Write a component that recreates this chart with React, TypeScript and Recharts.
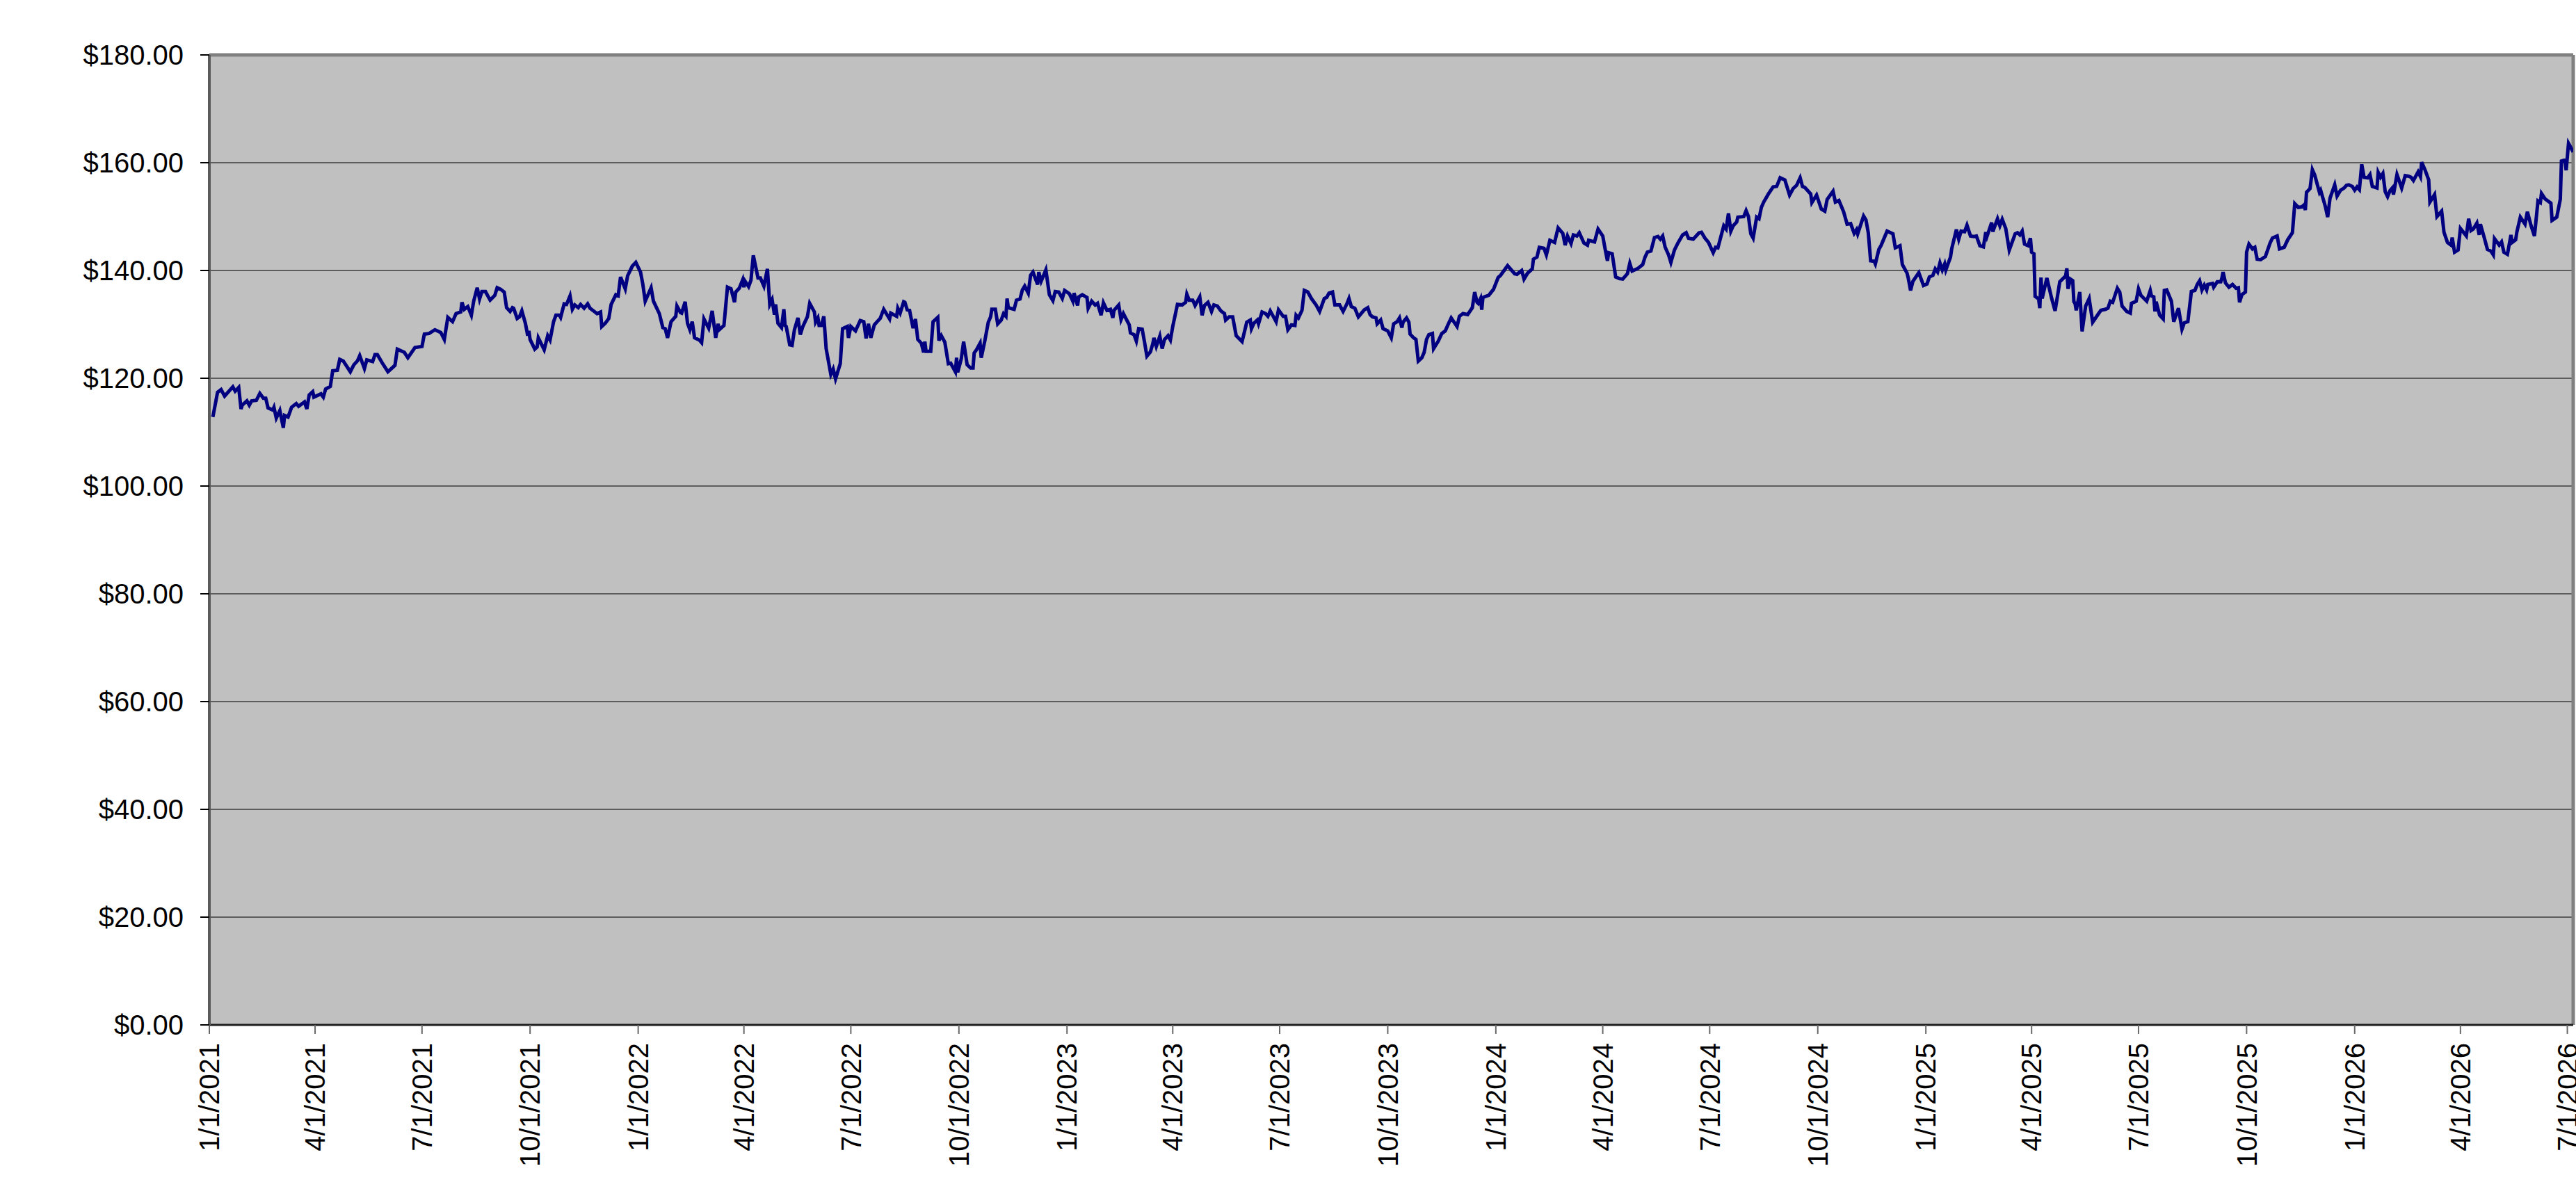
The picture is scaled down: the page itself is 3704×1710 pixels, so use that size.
import React from 'react';
import {
  LineChart,
  Line,
  XAxis,
  YAxis,
  CartesianGrid,
  ReferenceLine,
} from 'recharts';

// x positions are days since 1/1/2021
const priceDays = [
  3, 7, 10, 13, 20, 22, 25, 27, 28, 32, 34, 36, 40, 43, 46, 48, 50, 54, 55, 57,
  60, 63, 64, 67, 70, 74, 76, 81, 83, 85, 88, 89, 95, 97, 99, 103, 105, 109, 111, 114,
  120, 123, 126, 128, 132, 134, 139, 141, 143, 147, 152, 158, 160, 166, 169, 175, 181, 183, 187, 192,
  197, 200, 203, 207, 210, 214, 215, 217, 220, 223, 225, 228, 230, 232, 235, 239, 243, 245,
  248, 251, 253, 256, 258, 259, 262, 264, 266, 269, 271, 272, 273, 277, 279, 280, 285, 288, 290, 293,
  295, 298, 299, 302, 304, 307, 309, 311, 314, 316, 319, 322, 324, 327, 330, 333, 334, 337, 340, 342,
  346, 348, 350, 354, 356, 360, 363, 367, 369, 371, 376, 378, 383, 386, 388, 390, 393, 397, 398, 401,
  402, 405, 407, 409, 411, 413, 417, 419, 421, 425, 428, 431, 433, 434, 438, 441, 444, 447, 448, 451,
  454, 455, 456, 459, 461, 463, 467, 469, 472, 475, 477, 479, 481, 482, 484, 487, 489, 490, 491, 494,
  496, 498, 501, 503, 505,
  506, 509, 511, 515, 516, 518, 519, 521, 523, 525, 529, 531, 533, 537, 539, 543, 544, 546, 550, 554,
  557, 559, 561, 563, 566, 568, 571, 574, 579, 580, 585, 586, 588, 591, 592, 594, 596, 599, 601, 603,
  606, 608, 609, 610, 614, 616, 620, 621, 623, 626, 629, 631, 635, 636, 637, 640, 642, 645, 648, 650,
  651, 653, 656, 657, 660, 663, 665, 666, 669, 671, 674, 676, 678, 679, 680, 685, 687, 690, 692, 694,
  697, 699, 701, 705, 706, 708, 712, 715, 718, 720, 723, 726, 728, 732, 735, 736, 739, 740, 743, 747, 748,
  751, 754, 756, 759, 761, 764, 767, 769, 770, 774, 776, 778, 783, 784, 787, 789, 791, 794, 796, 798,
  801, 803, 804, 806, 809, 811, 813, 816, 818, 820, 824, 828, 831, 832, 834, 837, 839, 843, 845, 847,
  850, 853, 855, 858, 861, 864, 865, 868, 871, 874, 879, 883, 886, 887, 889, 892, 893, 896, 899, 901,
  903, 905, 908, 910, 914, 916, 918, 921, 924, 925, 927, 930, 932, 935, 938, 942, 945, 949, 951, 953,
  956, 958, 962, 965, 968, 970, 972, 975, 978, 983, 986, 988, 990, 993, 994, 997, 999,
  1003, 1006, 1008, 1011, 1013, 1015, 1016, 1019, 1021, 1022, 1025, 1027, 1029, 1032, 1034, 1036, 1038, 1041, 1042, 1046,
  1049, 1052, 1054, 1057, 1062, 1064, 1067, 1071, 1075, 1077, 1079, 1080, 1082, 1083, 1084, 1089, 1093, 1097, 1099, 1105,
  1111, 1113, 1117, 1119, 1122, 1126, 1127, 1130, 1132, 1136, 1138, 1141, 1145, 1148, 1152, 1154, 1156, 1159, 1161, 1164,
  1166, 1170, 1173, 1174, 1179, 1182, 1186, 1188, 1190, 1191, 1194, 1197, 1200, 1203, 1207, 1209, 1211, 1216, 1220, 1222,
  1224, 1227, 1230, 1233, 1235, 1237, 1239, 1242, 1244, 1247, 1250,
  1254, 1257, 1259, 1263, 1268, 1270, 1273, 1276, 1280, 1282, 1284, 1289, 1291, 1293, 1295, 1297, 1300, 1301, 1306, 1308,
  1310, 1312, 1314, 1317, 1319, 1321, 1323, 1327, 1331, 1334, 1337, 1341, 1345, 1348, 1351, 1354, 1356, 1358, 1363, 1364,
  1368, 1372, 1375, 1377, 1382, 1384, 1387, 1391, 1394, 1397, 1400, 1402, 1403, 1408, 1410, 1412, 1414, 1417, 1418, 1421,
  1423, 1428, 1433, 1435, 1439, 1441, 1445, 1446, 1448, 1450, 1455, 1459, 1462, 1464, 1467, 1469, 1471, 1473, 1475, 1477,
  1478, 1482, 1483, 1487, 1489, 1491, 1494, 1496, 1499, 1502, 1504,
  1507, 1510, 1512, 1513, 1517, 1518, 1522, 1524, 1526, 1529, 1532, 1537, 1539, 1541, 1543, 1545, 1548, 1550, 1551, 1553,
  1554, 1557, 1558, 1559, 1560, 1564, 1568, 1571, 1575, 1580, 1581, 1582, 1584, 1586, 1587, 1588, 1589, 1592, 1594, 1597,
  1600, 1603, 1608, 1610, 1614, 1616, 1618, 1620, 1624, 1626, 1628, 1632, 1635, 1636, 1640, 1642, 1644, 1649, 1652, 1653,
  1655, 1656, 1657, 1660, 1663, 1664, 1666, 1670, 1672, 1676, 1679, 1681, 1684, 1687, 1690, 1692, 1694, 1696, 1698, 1700,
  1701, 1705, 1706, 1709, 1712, 1713, 1714, 1716, 1719, 1722, 1725, 1727, 1728, 1730, 1733, 1734, 1736, 1739, 1741, 1743,
  1746, 1750, 1754, 1756, 1760, 1762, 1766,
  1769, 1773, 1775, 1778, 1781, 1783, 1784, 1785, 1788, 1790, 1792, 1796, 1797, 1801, 1803, 1805, 1809, 1811, 1814, 1817,
  1819, 1821, 1824, 1826, 1828, 1830, 1832, 1834, 1837, 1839, 1841, 1845, 1846, 1848, 1850, 1852, 1854, 1856, 1858, 1859,
  1862, 1866, 1869, 1872, 1874, 1876, 1880, 1882, 1883, 1886, 1889, 1890, 1894, 1896, 1900, 1902, 1905, 1908, 1909, 1911,
  1914, 1916, 1921, 1923, 1925, 1927, 1930, 1932, 1933, 1936, 1939, 1942, 1944, 1945, 1949, 1951, 1953, 1956, 1959, 1960,
  1963, 1964, 1967, 1971, 1973, 1976, 1979, 1982, 1984, 1985, 1988, 1993, 1994, 1998, 2001, 2002, 2005, 2006, 2008, 2012,
];

const priceValues = [
  112.8, 117.4, 117.9, 116.7, 118.4, 117.6, 118.3, 114.3, 115.0, 115.8, 115.0, 115.8, 115.9, 117.2, 116.3, 116.3, 114.5, 114.1, 114.6, 112.6,
  114.0, 110.8, 113.1, 112.8, 114.6, 115.3, 114.8, 115.6, 114.3, 116.9, 117.5, 116.5, 117.1, 116.5, 118.0, 118.5, 121.4, 121.5, 123.5, 123.2,
  121.2, 122.5, 123.2, 124.2, 121.8, 123.4, 123.1, 124.4, 124.4, 122.9, 121.2, 122.4, 125.4, 124.8, 123.8, 125.7, 125.9, 128.2, 128.3, 129.0,
  128.5, 127.2, 131.3, 130.5, 132.0, 132.3, 134.1, 132.8, 133.3, 131.7, 134.3, 136.8, 134.7, 136.1, 136.1, 134.5, 135.4, 136.8,
  136.5, 136.0, 133.1, 132.4, 133.1, 133.0, 131.1, 131.4, 132.5, 130.2, 127.9, 128.8, 127.2, 125.4, 125.8, 127.5, 125.3, 127.9, 127.1, 130.5,
  131.7, 131.7, 131.3, 133.8, 133.7, 135.3, 132.8, 133.6, 133.1, 133.7, 133.0, 133.8, 133.0, 132.5, 132.0, 132.3, 129.6, 130.2, 131.1, 133.7,
  135.5, 135.3, 138.8, 136.6, 139.0, 140.8, 141.5, 139.7, 137.4, 134.3, 136.8, 134.3, 132.0, 129.4, 129.2, 127.5, 130.5, 131.5, 133.4, 132.2,
  132.1, 134.2, 130.2, 129.0, 130.5, 127.5, 127.1, 126.6, 131.0, 129.3, 132.5, 127.5, 130.1, 129.0, 129.8, 136.9, 136.6, 134.1, 136.0, 136.7,
  138.3, 136.9, 138.0, 137.0, 138.2, 142.8, 138.6, 138.6, 137.1, 140.3, 133.7, 134.6, 131.8, 133.7, 130.2, 129.4, 132.8, 129.8, 129.6, 126.2,
  126.1, 129.0, 131.2, 128.1, 129.5,
  130.0, 131.4, 133.9, 132.3, 130.4, 131.2, 129.8, 129.8, 131.5, 125.5, 120.7, 121.7, 119.9, 122.7, 129.2, 129.6, 127.5, 129.6, 128.8, 130.7,
  130.5, 127.4, 130.1, 127.5, 129.9, 130.4, 131.1, 132.8, 131.0, 132.1, 131.5, 133.0, 132.1, 134.2, 134.1, 132.7, 132.6, 129.3, 131.0, 127.2,
  126.5, 124.8, 126.8, 125.0, 125.0, 130.5, 131.3, 127.0, 127.9, 126.7, 122.7, 122.8, 121.2, 123.8, 121.1, 123.6, 126.8, 122.5, 121.9, 121.9,
  124.7, 125.3, 126.5, 123.8, 126.9, 130.4, 131.4, 132.8, 132.8, 130.1, 130.8, 132.0, 131.5, 134.8, 133.1, 132.8, 134.5, 134.7, 136.4, 137.1,
  135.8, 139.1, 139.7, 137.4, 139.7, 138.0, 140.1, 135.5, 134.4, 136.1, 136.0, 134.8, 136.3, 135.7, 134.3, 135.8, 133.5, 135.1, 135.5, 135.0, 133.0,
  134.3, 133.6, 133.9, 131.7, 134.0, 132.6, 132.8, 131.2, 132.6, 133.6, 130.9, 132.0, 129.9, 128.4, 128.1, 126.9, 129.2, 129.1, 126.7, 124.1,
  124.9, 126.4, 127.5, 125.9, 127.8, 125.5, 127.2, 127.9, 127.1, 129.6, 133.7, 133.6, 134.1, 135.6, 134.5, 134.5, 133.5, 135.1, 131.7, 133.5,
  134.1, 132.4, 133.6, 133.4, 132.5, 132.0, 130.8, 131.4, 131.4, 127.9, 126.8, 130.4, 130.8, 129.2, 130.2, 130.8, 130.1, 132.3, 132.0, 131.5,
  132.5, 131.7, 130.5, 132.7, 131.5, 131.5, 129.0, 129.9, 129.8, 131.7, 131.2, 132.6, 136.3, 136.0, 134.8, 133.6, 132.4, 134.8, 135.0, 135.8,
  136.0, 133.6, 133.6, 132.4, 133.7, 134.8, 133.3, 133.0, 131.4, 132.7, 133.1, 131.8, 131.4, 131.2, 130.1, 130.8, 129.2,
  128.8, 127.5, 130.1, 130.5, 131.2, 129.4, 130.4, 131.2, 130.4, 128.2, 127.5, 127.2, 123.2, 123.8, 124.8, 127.2, 128.1, 128.3, 125.5, 126.9,
  128.3, 128.8, 129.8, 131.2, 129.6, 131.5, 132.0, 131.8, 133.1, 136.0, 134.1, 133.9, 134.8, 132.7, 135.0, 135.4, 136.5, 138.7, 139.1, 140.9,
  139.4, 139.3, 140.0, 138.4, 139.5, 140.3, 142.1, 142.5, 144.3, 144.1, 142.9, 145.6, 145.2, 147.9, 146.9, 144.7, 146.4, 145.0, 146.6, 146.4,
  147.0, 145.1, 144.7, 145.6, 145.3, 147.7, 146.4, 144.0, 141.8, 143.3, 143.1, 138.8, 138.5, 138.4, 139.4, 141.3, 139.9, 140.4, 141.1, 142.5,
  143.4, 143.6, 146.1, 146.3, 145.8, 146.4, 144.4, 142.9, 141.5, 143.8, 145.1,
  146.6, 147.0, 146.0, 145.8, 147.0, 147.1, 146.0, 145.2, 143.3, 144.3, 144.2, 148.3, 147.7, 150.6, 147.3, 148.3, 149.0, 149.9, 150.0, 151.1,
  150.0, 146.8, 146.0, 149.9, 149.6, 151.7, 152.7, 154.2, 155.5, 155.6, 157.2, 156.8, 154.0, 155.2, 155.8, 157.2, 155.6, 155.4, 154.2, 152.6,
  154.0, 151.4, 151.0, 153.2, 154.7, 152.7, 153.0, 150.9, 148.6, 148.7, 146.9, 147.6, 146.8, 150.1, 149.4, 147.0, 141.8, 141.7, 141.2, 143.9,
  144.7, 147.3, 146.8, 144.2, 144.6, 141.1, 139.5, 138.6, 136.3, 138.0, 139.6, 137.2, 137.5, 138.8, 139.1, 140.3, 139.7, 141.4, 140.1, 141.2,
  140.1, 142.5, 144.0, 147.6, 145.8, 147.3, 147.2, 148.4, 146.4, 146.3, 146.4,
  144.6, 144.4, 147.1, 146.3, 148.9, 147.2, 149.6, 148.3, 149.5, 147.8, 143.8, 146.8, 147.0, 146.6, 147.3, 144.9, 144.6, 146.0, 143.4, 143.1,
  135.2, 134.7, 133.0, 138.7, 134.8, 138.6, 134.9, 132.5, 137.9, 139.0, 140.4, 136.6, 138.4, 138.1, 134.2, 133.9, 132.6, 136.0, 128.7, 133.4,
  134.8, 130.4, 132.0, 132.6, 132.8, 133.0, 134.3, 134.1, 136.7, 136.0, 133.4, 132.4, 132.1, 133.9, 134.3, 136.6, 135.4, 134.3, 136.3, 135.3,
  135.1, 132.4, 134.2, 131.7, 131.0, 136.3, 136.4, 134.3, 130.5, 133.0, 129.1, 130.3, 130.5, 136.1, 136.3, 137.4, 138.1, 136.4, 137.3, 136.4,
  137.4, 137.6, 136.9, 137.9, 137.9, 138.6, 139.7, 137.7, 136.9, 137.4, 136.7, 136.8, 134.1, 135.5, 136.0, 143.4, 144.9, 144.0, 144.3, 142.1,
  142.0, 142.6, 145.1, 146.0, 146.4, 144.0, 144.3,
  145.7, 147.0, 152.4, 151.7, 151.8, 152.2, 151.2, 154.5, 155.2, 158.7, 157.7, 154.5, 154.9, 151.9, 149.9, 153.4, 155.9, 153.8, 154.9, 155.3,
  155.8, 155.9, 155.6, 154.9, 155.5, 155.0, 159.7, 157.3, 157.2, 157.8, 155.6, 155.3, 158.2, 157.3, 158.0, 154.6, 153.7, 154.8, 155.3, 154.1,
  157.8, 155.3, 157.6, 157.5, 157.3, 156.7, 158.3, 157.4, 160.1, 158.6, 156.8, 152.7, 154.1, 150.0, 151.0, 147.1, 145.2, 144.7, 146.1, 143.4,
  143.8, 147.8, 146.4, 149.6, 147.4, 147.7, 148.8, 146.6, 148.6, 146.3, 143.9, 143.6, 142.9, 145.9, 144.7, 145.3, 143.4, 143.0, 146.6, 145.2,
  145.7, 147.1, 149.9, 148.6, 150.9, 148.4, 146.4, 152.9, 152.6, 154.3, 153.3, 152.5, 149.3, 149.9, 153.2, 160.3, 160.5, 158.6, 163.6, 162.0,
];

const tickDays = [
  0, 90, 181, 273, 365, 455, 546, 638, 730, 820, 911, 1003,
  1095, 1186, 1277, 1369, 1461, 1551, 1642, 1734, 1826, 1916, 2007,
];

const tickLabels = [
  '1/1/2021', '4/1/2021', '7/1/2021', '10/1/2021', '1/1/2022', '4/1/2022', '7/1/2022', '10/1/2022',
  '1/1/2023', '4/1/2023', '7/1/2023', '10/1/2023', '1/1/2024', '4/1/2024', '7/1/2024', '10/1/2024',
  '1/1/2025', '4/1/2025', '7/1/2025', '10/1/2025', '1/1/2026', '4/1/2026', '7/1/2026',
];

const priceTicks = [0, 20, 40, 60, 80, 100, 120, 140, 160, 180];

const LAST_DAY = 2012;
const FONT = '"Liberation Sans", Arial, sans-serif';

const data = priceDays.map((day, i) => ({ day, price: priceValues[i] }));

const formatPrice = (v: number) => `$${v.toFixed(2)}`;

const DateTick = (props: any) => {
  const { x, y, payload } = props;
  const idx = tickDays.indexOf(payload.value);
  return (
    <text
      x={x}
      y={y}
      dy="0.355em"
      textAnchor="end"
      transform={`rotate(-90, ${x}, ${y})`}
      fontSize={40}
      fill="#000"
    >
      {idx >= 0 ? tickLabels[idx] : ''}
    </text>
  );
};

const App = () => (
  <div
    style={{
      position: 'absolute',
      left: 0,
      top: 0,
      width: 3704,
      height: 1710,
      background: '#fff',
      fontFamily: FONT,
    }}
  >
    <LineChart
      width={3704}
      height={1710}
      data={data}
      margin={{ top: 79, right: 4, bottom: 0, left: 0 }}
    >
      <CartesianGrid
        vertical={false}
        fill="#C0C0C0"
        stroke="#3c3c3c"
        strokeWidth={1.6}
      />
      <XAxis
        type="number"
        dataKey="day"
        domain={[0, LAST_DAY]}
        ticks={tickDays}
        interval={0}
        height={236}
        tickSize={13}
        tickMargin={13}
        tick={<DateTick />}
        axisLine={{ stroke: '#1e1e1e', strokeWidth: 3 }}
        tickLine={{ stroke: '#6a6a6a', strokeWidth: 2 }}
        allowDataOverflow
      />
      <YAxis
        type="number"
        domain={[0, 180]}
        ticks={priceTicks}
        interval={0}
        width={301}
        tickSize={13}
        tickMargin={24}
        tickFormatter={formatPrice}
        tick={{ fontSize: 40, fill: '#000' }}
        axisLine={{ stroke: '#5a5a5a', strokeWidth: 4 }}
        tickLine={{ stroke: '#000', strokeWidth: 2 }}
      />
      <ReferenceLine y={180} stroke="#808080" strokeWidth={5} />
      <ReferenceLine x={LAST_DAY} stroke="#808080" strokeWidth={5} />
      <Line
        type="linear"
        dataKey="price"
        stroke="#000080"
        strokeWidth={5}
        dot={false}
        activeDot={false}
        isAnimationActive={false}
      />
    </LineChart>
  </div>
);

export default App;
